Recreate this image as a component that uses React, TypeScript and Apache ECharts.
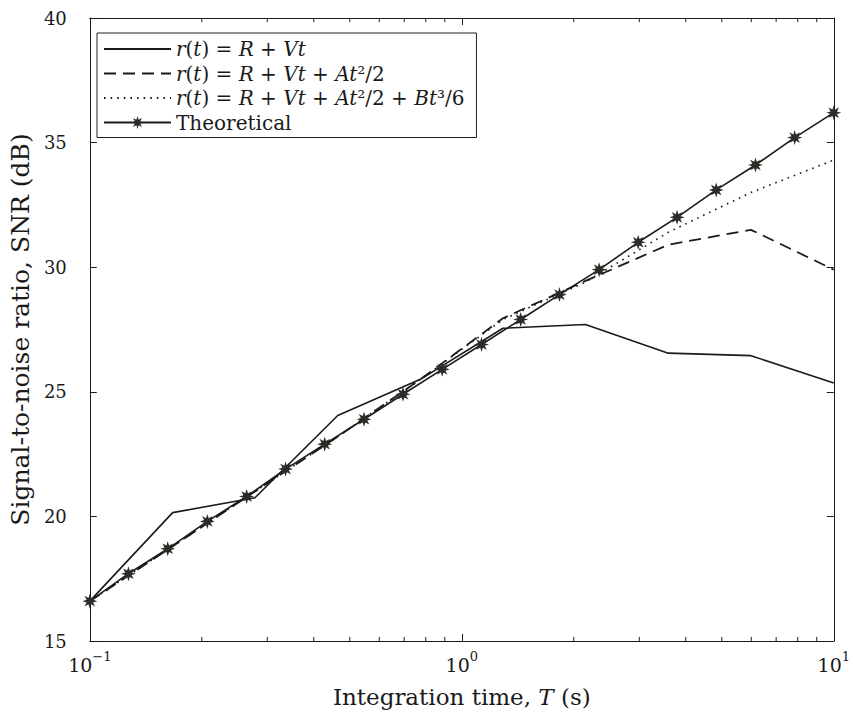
import React, { useEffect, useRef } from "react";
import * as echarts from "echarts";

// Integration times (s)
const tTheory = [0.1, 0.127, 0.162, 0.207, 0.264, 0.336, 0.428, 0.546, 0.695, 0.886, 1.13, 1.44, 1.83, 2.34, 2.98, 3.79, 4.83, 6.16, 7.85, 10];
const tEst = [0.1, 0.167, 0.278, 0.464, 0.774, 1.29, 2.15, 3.59, 5.99, 10];

// SNR (dB)
const snrTheory = [16.6, 17.7, 18.7, 19.8, 20.8, 21.9, 22.9, 23.9, 24.9, 25.9, 26.9, 27.9, 28.9, 29.9, 31.0, 32.0, 33.1, 34.1, 35.2, 36.2];
const snrVel = [16.6, 20.15, 20.75, 24.05, 25.5, 27.55, 27.7, 26.55, 26.45, 25.35];
const snrAcc = [16.6, 18.8, 21.0, 23.2, 25.5, 27.95, 29.45, 30.9, 31.5, 29.9];
const snrJerk = [16.6, 18.8, 21.0, 23.2, 25.5, 27.9, 29.4, 31.4, 33.0, 34.3];

const seriesNames = ["vel", "acc", "jerk", "Theoretical"];
const legendRich: Record<string, string> = {
  vel: "{i|r}{n|(}{i|t}{n|) = }{i|R}{n| + }{i|Vt}",
  acc: "{i|r}{n|(}{i|t}{n|) = }{i|R}{n| + }{i|Vt}{n| + }{i|At}{n|²/2}",
  jerk: "{i|r}{n|(}{i|t}{n|) = }{i|R}{n| + }{i|Vt}{n| + }{i|At}{n|²/2 + }{i|Bt}{n|³/6}",
  Theoretical: "{n|Theoretical}",
};

const xMin = 0.1;
const xMax = 10;
const yMin = 15;
const yMax = 40;
const yInterval = 5;
const minorTicks = [0.2, 0.3, 0.4, 0.5, 0.6, 0.7, 0.8, 0.9, 2, 3, 4, 5, 6, 7, 8, 9];
const expLabels: Record<string, string> = { "0.1": "{b|10}{s|−1}", "1": "{b|10}{s|0}", "10": "{b|10}{s|1}" };

const FONT = "DejaVu Serif";
const INK = "#1a1a1a";

function starPath(): string {
  const pts: string[] = [];
  const n = 8;
  for (let i = 0; i < n * 2; i++) {
    const r = i % 2 === 0 ? 10 : 4.6;
    const a = (Math.PI * i) / n - Math.PI / 2;
    pts.push(`${(10 + r * Math.cos(a)).toFixed(2)} ${(10 + r * Math.sin(a)).toFixed(2)}`);
  }
  return "path://M" + pts.join(" L") + " Z";
}

export default function App() {
  const ref = useRef<HTMLDivElement>(null);
  useEffect(() => {
    document.body.style.margin = "0";
    if (!ref.current) return;
    const chart = echarts.init(ref.current, undefined, { renderer: "svg" });
    const star = starPath();
    const lineSeries = (name: string, t: number[], v: number[], type: any, width: number) => ({
      name,
      type: "line",
      data: t.map((x, i) => [x, v[i]]),
      symbol: "none",
      lineStyle: { color: INK, width, type },
      itemStyle: { color: INK },
      z: 3,
    });
    const hidden = { opacity: 0 };
    chart.setOption({
      animation: false,
      backgroundColor: "#ffffff",
      grid: { left: 88, right: 15, top: 18, bottom: 72 },
      legend: {
        data: [
          { name: seriesNames[0], itemStyle: hidden },
          { name: seriesNames[1], itemStyle: hidden },
          { name: seriesNames[2], itemStyle: hidden },
          { name: seriesNames[3] },
        ],
        orient: "vertical",
        left: 97,
        top: 33,
        padding: [6, 12, 5, 6],
        itemWidth: 67,
        itemHeight: 16,
        itemGap: 4.5,
        borderColor: "#222",
        borderWidth: 1,
        backgroundColor: "#fff",
        formatter: (name: string) => legendRich[name],
        textStyle: {
          fontFamily: FONT,
          fontSize: 20,
          lineHeight: 16,
          color: INK,
          rich: {
            i: { fontFamily: FONT, fontStyle: "italic", fontSize: 20, lineHeight: 16, color: INK },
            n: { fontFamily: FONT, fontSize: 20, lineHeight: 16, color: INK },
          },
        },
      },
      xAxis: [
        {
          type: "log",
          logBase: 10,
          min: xMin,
          max: xMax,
          name: "Integration time, {i|T} (s)",
          nameLocation: "middle",
          nameGap: 44,
          nameTextStyle: {
            fontFamily: FONT,
            fontSize: 23,
            color: INK,
            rich: { i: { fontFamily: FONT, fontStyle: "italic", fontSize: 23, color: INK } },
          },
          axisLine: { show: true, lineStyle: { color: INK, width: 1 } },
          axisTick: { show: true, inside: true, length: 7, lineStyle: { color: INK } },
          axisLabel: {
            fontFamily: FONT,
            fontSize: 19,
            color: INK,
            margin: 9,
            formatter: (v: number) => expLabels[String(+v.toPrecision(3))] ?? "",
            rich: {
              b: { fontFamily: FONT, fontSize: 19, lineHeight: 24, verticalAlign: "bottom", color: INK },
              s: { fontFamily: FONT, fontSize: 13, lineHeight: 24, verticalAlign: "top", color: INK },
            },
          },
          splitLine: { show: false },
        },
        {
          type: "log",
          logBase: 10,
          min: xMin,
          max: xMax,
          position: "top",
          axisLine: { show: true, lineStyle: { color: INK, width: 1 } },
          axisTick: { show: true, inside: true, length: 7, lineStyle: { color: INK } },
          axisLabel: { show: false },
          splitLine: { show: false },
        },
      ],
      yAxis: [
        {
          type: "value",
          min: yMin,
          max: yMax,
          interval: yInterval,
          name: "Signal-to-noise ratio, SNR (dB)",
          nameLocation: "middle",
          nameGap: 52,
          nameTextStyle: { fontFamily: FONT, fontSize: 25, color: INK },
          axisLine: { show: true, lineStyle: { color: INK, width: 1 } },
          axisTick: { show: true, inside: true, length: 7, lineStyle: { color: INK } },
          axisLabel: { fontFamily: FONT, fontSize: 18, color: INK, margin: 23 },
          splitLine: { show: false },
        },
        {
          type: "value",
          min: yMin,
          max: yMax,
          interval: yInterval,
          position: "right",
          axisLine: { show: true, lineStyle: { color: INK, width: 1 } },
          axisTick: { show: true, inside: true, length: 7, lineStyle: { color: INK } },
          axisLabel: { show: false },
          splitLine: { show: false },
        },
      ],
      series: [
        lineSeries(seriesNames[0], tEst, snrVel, "solid", 1.6),
        lineSeries(seriesNames[1], tEst, snrAcc, [12, 7], 1.8),
        lineSeries(seriesNames[2], tEst, snrJerk, [1.6, 5], 1.6),
        {
          name: seriesNames[3],
          type: "line",
          data: tTheory.map((x, i) => [x, snrTheory[i]]),
          symbol: star,
          symbolSize: 15,
          lineStyle: { color: INK, width: 1.6 },
          itemStyle: { color: "#2e2a26" },
          z: 4,
        },
        {
          type: "custom",
          silent: true,
          data: minorTicks.map((t) => [t, yMin]),
          renderItem: (params: any, api: any) => {
            const b = api.coord([api.value(0), yMin]);
            const t = api.coord([api.value(0), yMax]);
            return {
              type: "group",
              children: [
                { type: "line", shape: { x1: b[0], y1: b[1], x2: b[0], y2: b[1] - 4 }, style: { stroke: INK, lineWidth: 1 } },
                { type: "line", shape: { x1: t[0], y1: t[1], x2: t[0], y2: t[1] + 4 }, style: { stroke: INK, lineWidth: 1 } },
              ],
            };
          },
          z: 2,
        },
      ],
    });
    return () => chart.dispose();
  }, []);
  return <div ref={ref} style={{ width: 853, height: 713 }} />;
}
